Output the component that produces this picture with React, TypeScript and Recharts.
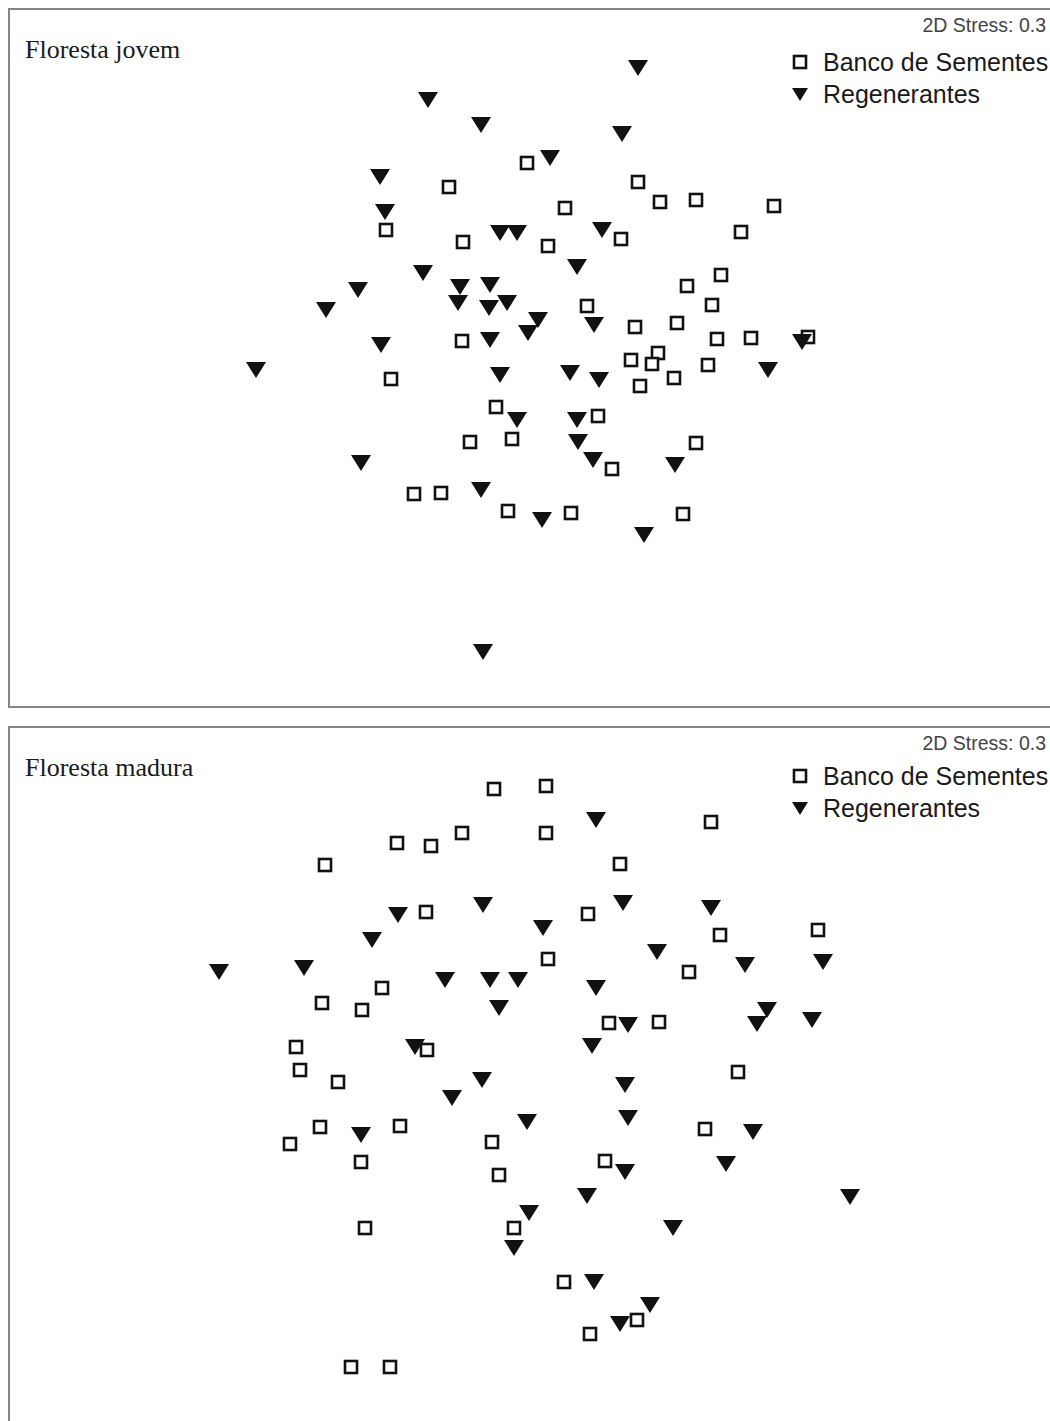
import { ScatterChart, Scatter, XAxis, YAxis, Legend } from 'recharts';

// ordination scores, panel units (x from left, y from top)
const jovemBanco = [
  { x: 519, y: 155 }, { x: 441, y: 179 }, { x: 630, y: 174 }, { x: 652, y: 194 },
  { x: 688, y: 192 }, { x: 766, y: 198 }, { x: 557, y: 200 }, { x: 378, y: 222 },
  { x: 455, y: 234 }, { x: 540, y: 238 }, { x: 613, y: 231 }, { x: 733, y: 224 },
  { x: 713, y: 267 }, { x: 679, y: 278 }, { x: 579, y: 298 }, { x: 704, y: 297 },
  { x: 627, y: 319 }, { x: 669, y: 315 }, { x: 709, y: 331 }, { x: 743, y: 330 },
  { x: 800, y: 329 }, { x: 454, y: 333 }, { x: 383, y: 371 }, { x: 623, y: 352 },
  { x: 650, y: 345 }, { x: 644, y: 356 }, { x: 700, y: 357 }, { x: 666, y: 370 },
  { x: 632, y: 378 }, { x: 488, y: 399 }, { x: 590, y: 408 }, { x: 462, y: 434 },
  { x: 504, y: 431 }, { x: 688, y: 435 }, { x: 604, y: 461 }, { x: 406, y: 486 },
  { x: 433, y: 485 }, { x: 500, y: 503 }, { x: 563, y: 505 }, { x: 675, y: 506 },
];

const jovemRegen = [
  { x: 630, y: 60 }, { x: 420, y: 92 }, { x: 473, y: 117 }, { x: 614, y: 126 },
  { x: 542, y: 150 }, { x: 372, y: 169 }, { x: 377, y: 204 }, { x: 492, y: 225 },
  { x: 509, y: 225 }, { x: 594, y: 222 }, { x: 569, y: 259 }, { x: 415, y: 265 },
  { x: 350, y: 282 }, { x: 318, y: 302 }, { x: 452, y: 279 }, { x: 482, y: 277 },
  { x: 450, y: 295 }, { x: 481, y: 300 }, { x: 499, y: 295 }, { x: 530, y: 312 },
  { x: 520, y: 325 }, { x: 586, y: 317 }, { x: 482, y: 332 }, { x: 373, y: 337 },
  { x: 794, y: 334 }, { x: 248, y: 362 }, { x: 492, y: 367 }, { x: 562, y: 365 },
  { x: 591, y: 372 }, { x: 760, y: 362 }, { x: 509, y: 412 }, { x: 569, y: 412 },
  { x: 570, y: 434 }, { x: 585, y: 452 }, { x: 353, y: 455 }, { x: 667, y: 457 },
  { x: 473, y: 482 }, { x: 534, y: 512 }, { x: 636, y: 527 }, { x: 475, y: 644 },
];

const maduraBanco = [
  { x: 486, y: 63 }, { x: 538, y: 60 }, { x: 389, y: 117 }, { x: 423, y: 120 },
  { x: 454, y: 107 }, { x: 538, y: 107 }, { x: 703, y: 96 }, { x: 317, y: 139 },
  { x: 612, y: 138 }, { x: 418, y: 186 }, { x: 580, y: 188 }, { x: 712, y: 209 },
  { x: 810, y: 204 }, { x: 540, y: 233 }, { x: 681, y: 246 }, { x: 374, y: 262 },
  { x: 314, y: 277 }, { x: 354, y: 284 }, { x: 601, y: 297 }, { x: 651, y: 296 },
  { x: 419, y: 324 }, { x: 288, y: 321 }, { x: 292, y: 344 }, { x: 330, y: 356 },
  { x: 730, y: 346 }, { x: 312, y: 401 }, { x: 282, y: 418 }, { x: 392, y: 400 },
  { x: 353, y: 436 }, { x: 484, y: 416 }, { x: 697, y: 403 }, { x: 597, y: 435 },
  { x: 491, y: 449 }, { x: 357, y: 502 }, { x: 506, y: 502 }, { x: 556, y: 556 },
  { x: 629, y: 594 }, { x: 582, y: 608 }, { x: 343, y: 641 }, { x: 382, y: 641 },
];

const maduraRegen = [
  { x: 588, y: 94 }, { x: 475, y: 179 }, { x: 390, y: 189 }, { x: 615, y: 177 },
  { x: 703, y: 182 }, { x: 364, y: 214 }, { x: 535, y: 202 }, { x: 211, y: 246 },
  { x: 296, y: 242 }, { x: 649, y: 226 }, { x: 737, y: 239 }, { x: 815, y: 236 },
  { x: 437, y: 254 }, { x: 482, y: 254 }, { x: 510, y: 254 }, { x: 588, y: 262 },
  { x: 491, y: 282 }, { x: 759, y: 284 }, { x: 749, y: 298 }, { x: 804, y: 294 },
  { x: 620, y: 299 }, { x: 407, y: 321 }, { x: 584, y: 320 }, { x: 474, y: 354 },
  { x: 617, y: 359 }, { x: 444, y: 372 }, { x: 353, y: 409 }, { x: 519, y: 396 },
  { x: 620, y: 392 }, { x: 745, y: 406 }, { x: 617, y: 446 }, { x: 718, y: 438 },
  { x: 579, y: 470 }, { x: 842, y: 471 }, { x: 521, y: 487 }, { x: 665, y: 502 },
  { x: 506, y: 522 }, { x: 586, y: 556 }, { x: 642, y: 579 }, { x: 612, y: 598 },
];

const seriesNames = ['Banco de Sementes', 'Regenerantes'];
const stressLabel = '2D Stress: 0.3';

const W = 1046;
const H = 700;

function SquareMark({ cx, cy }: any) {
  return <rect x={cx - 6} y={cy - 6} width={12} height={12} fill="#fff" stroke="#111" strokeWidth={2.6} />;
}

function TriangleMark({ cx, cy }: any) {
  return <polygon points={`${cx - 10},${cy - 8} ${cx + 10},${cy - 8} ${cx},${cy + 8}`} fill="#111" />;
}

function LegendBox({ payload }: any) {
  return (
    <div style={{ fontFamily: '"Liberation Sans", Arial, sans-serif', fontSize: 25, color: '#1a1a1a' }}>
      {(payload || []).map((entry: any, i: number) => (
        <div key={i} style={{ display: 'flex', alignItems: 'center', height: 32 }}>
          <svg width={20} height={20} style={{ marginRight: 13 }}>
            {i === 0 ? (
              <rect x={4} y={4} width={12} height={12} fill="#fff" stroke="#111" strokeWidth={2.6} />
            ) : (
              <polygon points="2,4 18,4 10,17" fill="#111" />
            )}
          </svg>
          <span>{entry.value}</span>
        </div>
      ))}
    </div>
  );
}

function Panel({ top, title, banco, regen, legendTop }: any) {
  return (
    <div style={{ position: 'absolute', left: 8, top, width: W, height: H }}>
      <ScatterChart width={W} height={H} margin={{ top: 0, right: 0, bottom: 0, left: 0 }}>
        <XAxis type="number" dataKey="x" domain={[0, W]} allowDataOverflow hide />
        <YAxis type="number" dataKey="y" domain={[0, H]} allowDataOverflow reversed hide />
        {/* vertical + center + middle keeps the legend from shrinking the plot area */}
        <Legend
          content={<LegendBox />}
          layout="vertical"
          verticalAlign="middle"
          align="center"
          wrapperStyle={{ top: legendTop, left: 782, width: 290 }}
        />
        <Scatter name={seriesNames[0]} data={banco} shape={<SquareMark />} isAnimationActive={false} />
        <Scatter name={seriesNames[1]} data={regen} shape={<TriangleMark />} isAnimationActive={false} />
      </ScatterChart>
      <div
        style={{
          position: 'absolute', left: 0, top: 0, width: W, height: H,
          border: '2px solid #858585', boxSizing: 'border-box', pointerEvents: 'none',
        }}
      />
      <div
        style={{
          position: 'absolute', left: 17, top: 27, fontFamily: '"Liberation Serif", "Times New Roman", serif',
          fontSize: 26, color: '#1a1a1a', whiteSpace: 'nowrap',
        }}
      >
        {title}
      </div>
      <div
        style={{
          position: 'absolute', right: 8, top: 6, fontFamily: '"Liberation Sans", Arial, sans-serif',
          fontSize: 19.5, color: '#444', whiteSpace: 'nowrap',
        }}
      >
        {stressLabel}
      </div>
    </div>
  );
}

export default function App() {
  return (
    <div style={{ position: 'absolute', left: 0, top: 0, width: 1050, height: 1421, overflow: 'hidden', background: '#fff' }}>
      <Panel top={8} title="Floresta jovem" banco={jovemBanco} regen={jovemRegen} legendTop={38} />
      <Panel top={726} title="Floresta madura" banco={maduraBanco} regen={maduraRegen} legendTop={34} />
    </div>
  );
}
